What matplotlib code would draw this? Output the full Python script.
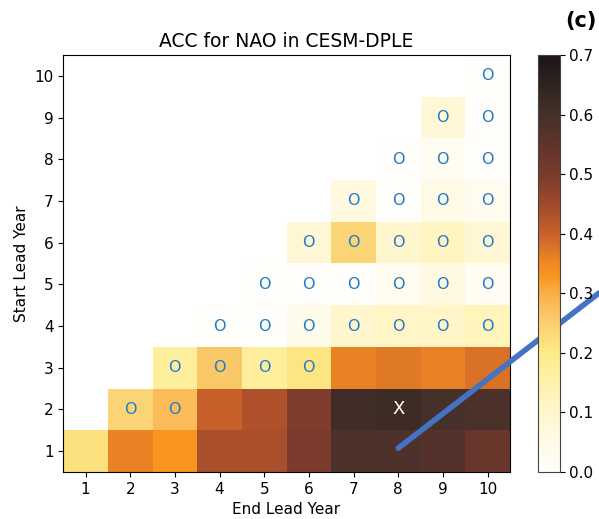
import numpy as np
import matplotlib
matplotlib.use("Agg")
import matplotlib.pyplot as plt
from matplotlib.colors import LinearSegmentedColormap

# ACC for NAO, rows = start lead year 1..10, cols = end lead year 1..10 (nan = end < start)
start_years = list(range(1, 11))
end_years = list(range(1, 11))
nan = np.nan
acc = [
    [0.22, 0.36, 0.33, 0.44, 0.44, 0.50, 0.59, 0.58, 0.57, 0.53],
    [nan, 0.24, 0.28, 0.40, 0.43, 0.49, 0.61, 0.62, 0.60, 0.59],
    [nan, nan, 0.17, 0.26, 0.17, 0.21, 0.36, 0.37, 0.36, 0.38],
    [nan, nan, nan, -0.02, -0.01, 0.04, 0.10, 0.11, 0.11, 0.13],
    [nan, nan, nan, nan, -0.03, -0.02, -0.01, 0.03, 0.06, 0.02],
    [nan, nan, nan, nan, nan, 0.09, 0.24, 0.10, 0.12, 0.09],
    [nan, nan, nan, nan, nan, nan, 0.06, -0.01, 0.05, 0.03],
    [nan, nan, nan, nan, nan, nan, nan, -0.02, 0.02, -0.01],
    [nan, nan, nan, nan, nan, nan, nan, nan, 0.08, -0.01],
    [nan, nan, nan, nan, nan, nan, nan, nan, nan, -0.03],
]
# "O" = not significant, "X" = marked cell
not_sig = [
    (2, 2), (2, 3),
    (3, 3), (3, 4), (3, 5), (3, 6),
    (4, 4), (4, 5), (4, 6), (4, 7), (4, 8), (4, 9), (4, 10),
    (5, 5), (5, 6), (5, 7), (5, 8), (5, 9), (5, 10),
    (6, 6), (6, 7), (6, 8), (6, 9), (6, 10),
    (7, 7), (7, 8), (7, 9), (7, 10),
    (8, 8), (8, 9), (8, 10),
    (9, 9), (9, 10),
    (10, 10),
]
marked = [(2, 8)]
cbar_ticks = [0.0, 0.1, 0.2, 0.3, 0.4, 0.5, 0.6, 0.7]

cmap_pts = [
    (0.00, "#fffefa"), (0.05, "#fffae6"), (0.10, "#fff6cd"), (0.15, "#fff2ab"),
    (0.20, "#fdeb85"), (0.25, "#fbcf70"), (0.30, "#f9ae48"), (0.33, "#f7941d"),
    (0.35, "#ef8a22"), (0.40, "#c8602a"), (0.45, "#a04a2c"), (0.50, "#7a3a2c"),
    (0.55, "#5e342c"), (0.60, "#47302a"), (0.65, "#2e2420"), (0.70, "#1a1614"),
]
cmap = LinearSegmentedColormap.from_list("acc", [(v / 0.7, c) for v, c in cmap_pts])

fig = plt.figure(figsize=(5.99, 5.19), dpi=100)
ax = fig.add_axes([0.1055, 0.0906, 0.7457, 0.8035])
cax = fig.add_axes([0.8975, 0.0906, 0.0367, 0.8035])

data = np.ma.masked_invalid(np.array(acc))
im = ax.pcolormesh(np.arange(0.5, 11), np.arange(0.5, 11), data,
                   cmap=cmap, vmin=0, vmax=0.7)
for s, e in not_sig:
    ax.text(e, s, "O", color="#1f7bc8", ha="center", va="center", fontsize=11.5)
for s, e in marked:
    ax.text(e, s, "X", color="white", ha="center", va="center", fontsize=13)

ax.set_xlim(0.5, 10.5)
ax.set_ylim(0.5, 10.5)
ax.set_xticks(end_years)
ax.set_yticks(start_years)
ax.tick_params(labelsize=11)
ax.set_xlabel("End Lead Year", fontsize=11)
ax.set_ylabel("Start Lead Year", fontsize=11)
ax.set_title("ACC for NAO in CESM-DPLE", fontsize=13.5)

cb = fig.colorbar(im, cax=cax, ticks=cbar_ticks)
cb.ax.tick_params(labelsize=11)
cb.outline.set_edgecolor("#444444")

fig.text(0.97, 0.96, "(c)", fontsize=15, fontweight="bold", ha="center", va="center")

# blue pointer line drawn over the figure
ax.annotate("", xy=(8, 1.07), xycoords="data",
            xytext=(1.0, 1 - 293 / 519), textcoords="figure fraction",
            arrowprops=dict(arrowstyle="-", color="#4472c4", lw=4,
                            shrinkA=0, shrinkB=0),
            annotation_clip=False)

fig.savefig("out.png", dpi=100)
